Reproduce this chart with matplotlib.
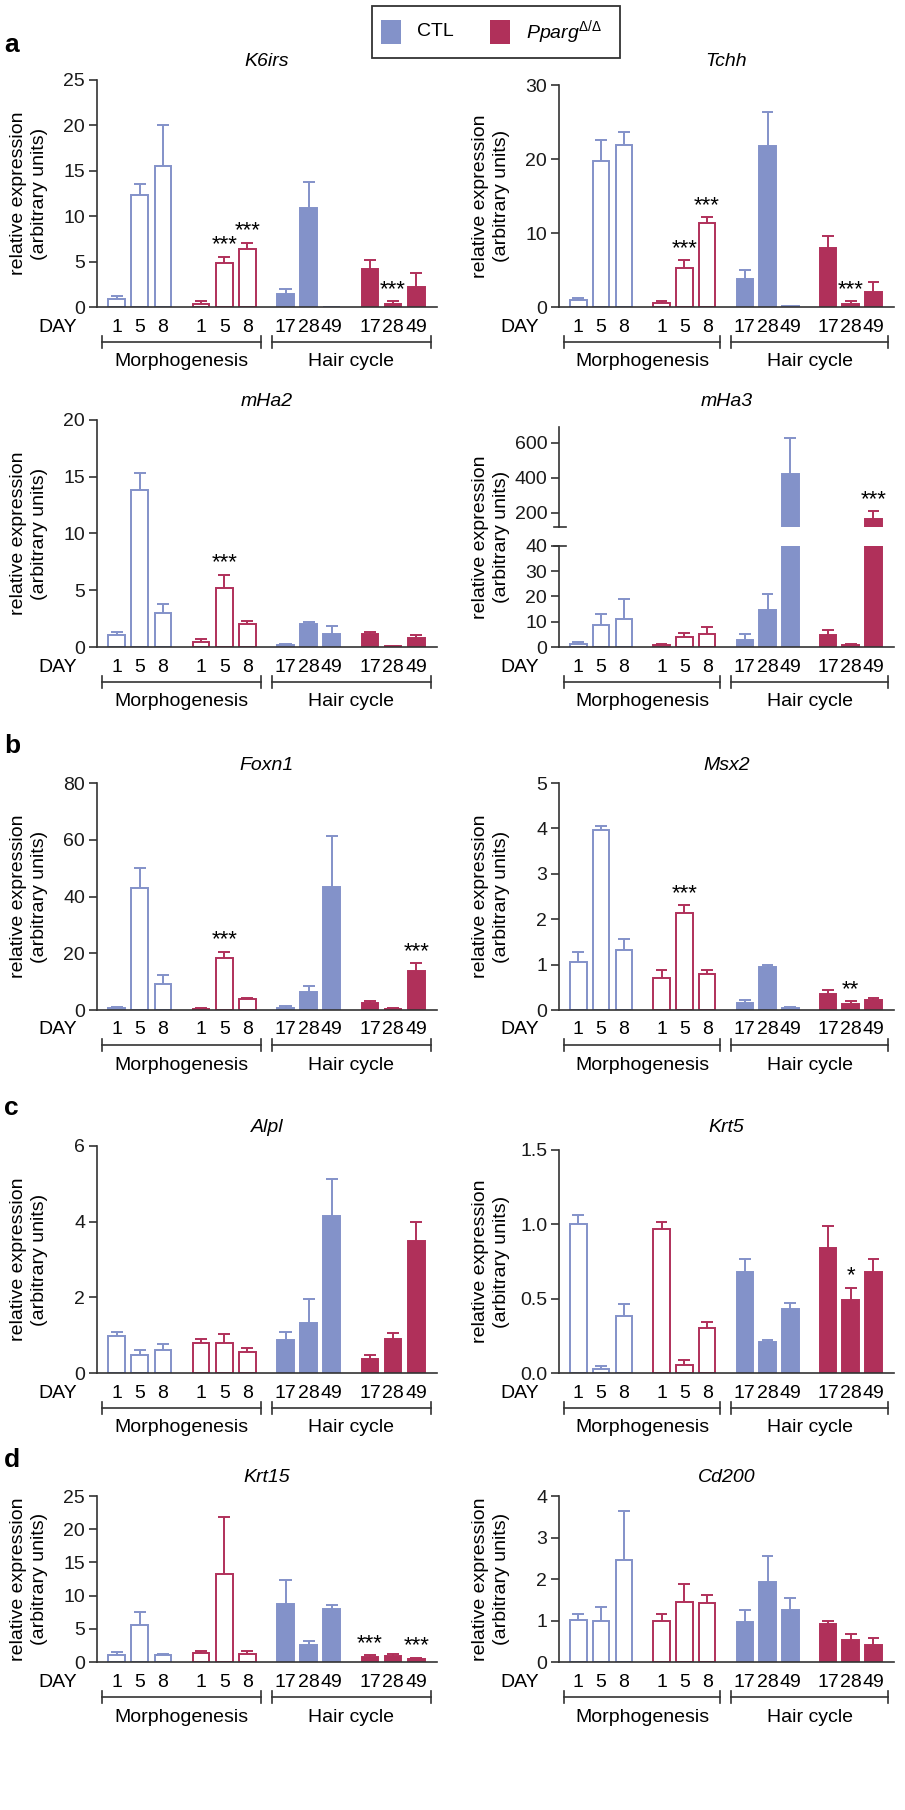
import numpy as np
import matplotlib
matplotlib.use("Agg")
import matplotlib.pyplot as plt
import matplotlib.transforms as mtransforms
from matplotlib.patches import Rectangle
from matplotlib.lines import Line2D

plt.rcParams['font.family'] = ['Liberation Sans', 'DejaVu Sans']
plt.rcParams['mathtext.fontset'] = 'custom'
plt.rcParams['mathtext.rm'] = 'Liberation Sans'
plt.rcParams['mathtext.it'] = 'Liberation Sans:italic'

W, H = 905, 1810
CTL = '#8392C9'
KO = '#B0305A'
AXC = '#333333'
FS = 14

# bar order: CTL morph (1,5,8), Pparg morph (1,5,8), CTL hair cycle (17,28,49), Pparg hair cycle (17,28,49)
days = ['1', '5', '8', '1', '5', '8', '17', '28', '49', '17', '28', '49']
xpos = [0, 1, 2, 3.65, 4.65, 5.65, 7.3, 8.3, 9.3, 10.95, 11.95, 12.95]

k6irs_mean = [0.85, 12.3, 15.5, 0.33, 4.8, 6.4, 1.47, 10.85, 0.05, 4.15, 0.33, 2.25]
k6irs_top = [1.2, 13.6, 20.0, 0.62, 5.5, 7.1, 2.0, 13.8, 0.05, 5.15, 0.65, 3.7]
k6irs_stars = {4: '***', 5: '***', 10: '***'}

tchh_mean = [0.9, 19.7, 21.9, 0.54, 5.3, 11.35, 3.74, 21.75, 0.08, 8.0, 0.36, 1.98]
tchh_top = [1.2, 22.5, 23.6, 0.77, 6.3, 12.1, 4.95, 26.35, 0.08, 9.55, 0.77, 3.38]
tchh_stars = {4: '***', 5: '***', 10: '***'}

mha2_mean = [1.03, 13.83, 3.03, 0.44, 5.17, 2.0, 0.2, 2.06, 1.15, 1.15, 0.1, 0.76]
mha2_top = [1.33, 15.3, 3.76, 0.68, 6.34, 2.26, 0.25, 2.2, 1.85, 1.33, 0.12, 1.1]
mha2_stars = {4: '***'}

mha3_mean = [1.05, 8.9, 11.05, 0.8, 4.1, 5.26, 2.9, 14.6, 423, 4.87, 0.9, 166]
mha3_top = [2.1, 13.0, 19.2, 1.2, 5.5, 8.0, 5.0, 20.9, 627, 6.7, 1.2, 210]
mha3_stars = {11: '***'}

foxn1_mean = [0.7, 43.1, 9.05, 0.5, 18.45, 3.8, 0.8, 6.4, 43.3, 2.4, 0.5, 13.6]
foxn1_top = [1.2, 50.0, 12.5, 0.7, 20.6, 4.4, 1.4, 8.3, 61.2, 3.0, 0.7, 16.5]
foxn1_stars = {4: '***', 11: '***'}

msx2_mean = [1.06, 3.97, 1.32, 0.71, 2.14, 0.79, 0.15, 0.94, 0.05, 0.36, 0.14, 0.21]
msx2_top = [1.27, 4.06, 1.57, 0.88, 2.31, 0.88, 0.21, 1.0, 0.07, 0.44, 0.19, 0.27]
msx2_stars = {4: '***', 10: '**'}

alpl_mean = [0.99, 0.47, 0.62, 0.80, 0.80, 0.56, 0.88, 1.31, 4.14, 0.38, 0.89, 3.5]
alpl_top = [1.09, 0.62, 0.77, 0.90, 1.02, 0.65, 1.09, 1.96, 5.13, 0.47, 1.07, 3.98]
alpl_stars = {}

krt5_mean = [1.003, 0.028, 0.386, 0.968, 0.053, 0.30, 0.68, 0.21, 0.43, 0.84, 0.49, 0.68]
krt5_top = [1.06, 0.044, 0.464, 1.017, 0.086, 0.34, 0.77, 0.225, 0.469, 0.99, 0.574, 0.766]
krt5_stars = {10: '*'}

krt15_mean = [1.0, 5.5, 1.0, 1.3, 13.2, 1.2, 8.8, 2.6, 8.0, 0.8, 0.9, 0.4]
krt15_top = [1.5, 7.5, 1.2, 1.6, 21.8, 1.6, 12.3, 3.2, 8.6, 1.0, 1.2, 0.6]
krt15_stars = {9: '***', 11: '***'}

cd200_mean = [1.02, 1.0, 2.45, 1.0, 1.45, 1.42, 0.97, 1.92, 1.25, 0.92, 0.53, 0.42]
cd200_top = [1.15, 1.32, 3.65, 1.15, 1.87, 1.62, 1.25, 2.55, 1.55, 1.0, 0.68, 0.58]
cd200_stars = {}

# panel columns (pixel x of y-axis, right end of x-axis)
COLS = [(97, 437), (559, 894)]

fig = plt.figure(figsize=(W / 100, H / 100), dpi=100)


def px_axes(col, top, bottom):
    left, right = COLS[col]
    return fig.add_axes([left / W, 1 - bottom / H, (right - left) / W, (bottom - top) / H])


def draw_bars(ax, mean, top, stars):
    for i, (x, m, t) in enumerate(zip(xpos, mean, top)):
        col = CTL if (i // 3) % 2 == 0 else KO
        filled = i >= 6
        ax.bar(x, m, width=0.72, color=col if filled else 'white',
               edgecolor=col, linewidth=1.4, zorder=2)
        if t > m:
            ax.vlines(x, m, t, color=col, lw=1.4, zorder=1)
            ax.hlines(t, x - 0.26, x + 0.26, color=col, lw=1.4, zorder=1)
        if i in stars:
            ax.annotate(stars[i], (x, t), xytext=(0, 1), textcoords='offset points',
                        ha='center', va='bottom', fontsize=16, zorder=3)


def style(ax, ylim, yticks, labels=None, bottom=True):
    ax.set_xlim(-0.85, 13.85)
    ax.set_ylim(*ylim)
    ax.set_yticks(yticks)
    if labels is not None:
        ax.set_yticklabels(labels)
    ax.set_xticks([])
    ax.patch.set_alpha(0)
    ax.spines[['top', 'right']].set_visible(False)
    if not bottom:
        ax.spines['bottom'].set_visible(False)
    for s in ('left', 'bottom'):
        ax.spines[s].set_color(AXC)
        ax.spines[s].set_linewidth(1.2)
    ax.tick_params(axis='y', length=5.5, width=1.2, color=AXC, labelsize=FS,
                   labelcolor='#1a1a1a', pad=3)


def day_axis(ax, col, zero):
    left, right = COLS[col]
    tr = mtransforms.blended_transform_factory(ax.transData, fig.transFigure)
    yf = lambda p: 1 - p / H
    for x, d in zip(xpos, days):
        ax.text(x, yf(zero + 20), d, transform=tr, ha='center', va='center',
                fontsize=FS, clip_on=False)
    fig.text((left - 39) / W, yf(zero + 20), 'DAY', ha='center', va='center', fontsize=FS)
    for a, b, lab in ((-0.62, 6.22, 'Morphogenesis'), (6.7, 13.6, 'Hair cycle')):
        for ln in ([a, b], [yf(zero + 35)] * 2), ([a, a], [yf(zero + 29), yf(zero + 41)]), \
                  ([b, b], [yf(zero + 29), yf(zero + 41)]):
            ax.add_line(Line2D(ln[0], ln[1], transform=tr, color=AXC, lw=1.2, clip_on=False))
        ax.text((a + b) / 2, yf(zero + 55), lab, transform=tr, ha='center', va='center',
                fontsize=FS, clip_on=False)


def ylab(col, top, bottom):
    left = COLS[col][0]
    fig.text((left - 68) / W, 1 - (top + bottom) / 2 / H,
             'relative expression\n(arbitrary units)', rotation=90, ha='center',
             va='center', fontsize=FS, linespacing=1.25)


def title(col, y, name):
    left, right = COLS[col]
    fig.text((left + right) / 2 / W, 1 - y / H, name, style='italic',
             ha='center', va='center', fontsize=FS)


panels = [
    (0, 'K6irs', 62, 80, 307, (0, 25), np.arange(0, 26, 5), None, k6irs_mean, k6irs_top, k6irs_stars),
    (1, 'Tchh', 62, 85, 307, (0, 30), [0, 10, 20, 30], None, tchh_mean, tchh_top, tchh_stars),
    (0, 'mHa2', 402, 420, 647, (0, 20), np.arange(0, 21, 5), None, mha2_mean, mha2_top, mha2_stars),
    (0, 'Foxn1', 765, 783, 1010, (0, 80), np.arange(0, 81, 20), None, foxn1_mean, foxn1_top, foxn1_stars),
    (1, 'Msx2', 765, 783, 1010, (0, 5), np.arange(0, 6), None, msx2_mean, msx2_top, msx2_stars),
    (0, 'Alpl', 1127, 1146, 1373, (0, 6), [0, 2, 4, 6], None, alpl_mean, alpl_top, alpl_stars),
    (1, 'Krt5', 1127, 1150, 1373, (0, 1.5), [0, 0.5, 1.0, 1.5], ['0.0', '0.5', '1.0', '1.5'],
     krt5_mean, krt5_top, krt5_stars),
    (0, 'Krt15', 1477, 1496, 1662, (0, 25), np.arange(0, 26, 5), None, krt15_mean, krt15_top, krt15_stars),
    (1, 'Cd200', 1477, 1496, 1662, (0, 4), np.arange(0, 5), None, cd200_mean, cd200_top, cd200_stars),
]

for col, name, ty, top, zero, ylim, ticks, labels, mean, topv, stars in panels:
    ax = px_axes(col, top, zero)
    style(ax, ylim, ticks, labels)
    draw_bars(ax, mean, topv, stars)
    day_axis(ax, col, zero)
    ylab(col, top, zero)
    title(col, ty, name)

# mHa3 with a broken y axis
low = px_axes(1, 546, 647)
style(low, (0, 40), np.arange(0, 41, 10))
draw_bars(low, mha3_mean, mha3_top, {})
day_axis(low, 1, 647)
up = px_axes(1, 427, 527)
style(up, (120, 690), [200, 400, 600], bottom=False)
draw_bars(up, mha3_mean, mha3_top, mha3_stars)
ylab(1, 427, 647)
title(1, 402, 'mHa3')
for a in (up, low):
    yy = 0 if a is up else 1
    a.add_line(Line2D([-0.014, 0.022], [yy, yy], transform=a.transAxes, color=AXC,
                      lw=1.2, clip_on=False))

# panel letters
for lab, y in (('a', 45), ('b', 746), ('c', 1108), ('d', 1460)):
    fig.text(4 / W, 1 - y / H, lab, fontsize=19, fontweight='bold', ha='left', va='center')

# legend box
lx0, lx1, ly0, ly1 = 372, 620, 6, 58
fig.add_artist(Rectangle((lx0 / W, 1 - ly1 / H), (lx1 - lx0) / W, (ly1 - ly0) / H,
                         transform=fig.transFigure, fill=False, edgecolor=AXC, lw=1.3))
for x0, c in ((381, CTL), (490, KO)):
    fig.add_artist(Rectangle((x0 / W, 1 - 44 / H), 20 / W, 24 / H, transform=fig.transFigure,
                             facecolor=c, edgecolor='none'))
fig.text(417 / W, 1 - 32 / H, 'CTL', fontsize=FS, ha='left', va='center')
fig.text(526 / W, 1 - 32 / H, r'$\mathit{Pparg}^{\Delta/\Delta}$', fontsize=FS, ha='left', va='center')

fig.savefig('out.png', dpi=100)
